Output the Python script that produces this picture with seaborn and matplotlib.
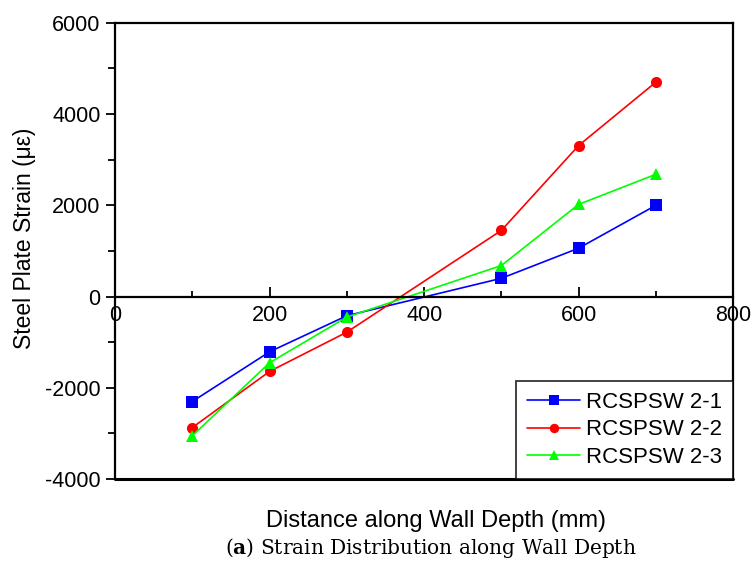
import pandas as pd
import matplotlib.pyplot as plt
import seaborn as sns
from matplotlib.ticker import MultipleLocator

# data
distance = [100, 200, 300, 500, 600, 700]
sw21 = [-2300, -1210, -420, 400, 1060, 2000]
sw22 = [-2870, -1640, -780, 1450, 3310, 4700]
sw23 = [-3050, -1450, -450, 680, 2020, 2680]
labels = ['RCSPSW 2-1', 'RCSPSW 2-2', 'RCSPSW 2-3']

df = pd.concat([
    pd.DataFrame({'Distance': distance, 'Strain': vals, 'Specimen': name})
    for name, vals in zip(labels, [sw21, sw22, sw23])
])

sns.set_style('white', {'text.color': 'black', 'xtick.color': 'black',
                        'ytick.color': 'black', 'axes.labelcolor': 'black'})
plt.rcParams['font.family'] = ['Liberation Sans', 'DejaVu Sans']
plt.rcParams['axes.unicode_minus'] = False
plt.rcParams['mathtext.fontset'] = 'custom'
plt.rcParams['mathtext.rm'] = 'DejaVu Serif'
plt.rcParams['mathtext.bf'] = 'DejaVu Serif:bold'

fig = plt.figure(figsize=(7.52, 5.69), dpi=100)
ax = fig.add_axes([0.153, 0.158, 0.822, 0.802])

sns.lineplot(data=df, x='Distance', y='Strain', hue='Specimen', style='Specimen',
             palette={'RCSPSW 2-1': '#0000ff', 'RCSPSW 2-2': '#ff0000', 'RCSPSW 2-3': '#00ff00'},
             markers={'RCSPSW 2-1': 's', 'RCSPSW 2-2': 'o', 'RCSPSW 2-3': '^'},
             dashes=False, markersize=8, markeredgewidth=0, linewidth=1.2, ax=ax)

ax.set_xlim(0, 800)
ax.set_ylim(-4000, 6000)
ax.xaxis.set_major_locator(MultipleLocator(200))
ax.xaxis.set_minor_locator(MultipleLocator(100))
ax.yaxis.set_major_locator(MultipleLocator(2000))
ax.yaxis.set_minor_locator(MultipleLocator(1000))

for s in ax.spines.values():
    s.set_color('black')
    s.set_linewidth(1.6)
ax.spines['bottom'].set_position(('data', 0))
ax.axhline(-4000, color='black', lw=2.2, clip_on=False)

ax.tick_params(axis='x', which='major', direction='in', length=7, width=1.3,
               labelsize=15.5, pad=6, bottom=True, color='black', labelcolor='black')
ax.tick_params(axis='x', which='minor', direction='in', length=4, width=1.3, bottom=True)
ax.tick_params(axis='y', which='major', direction='out', length=6.5, width=1.3,
               labelsize=15.5, pad=4, left=True, color='black', labelcolor='black')
ax.tick_params(axis='y', which='minor', direction='out', length=5, width=1.3, left=True)

ax.set_xlabel('')
ax.set_ylabel('')
fig.text(25 / 752, 1 - 238 / 569, 'Steel Plate Strain (με)', fontsize=16.5,
         rotation=90, ha='center', va='center', color='black')
fig.text(436 / 752, 1 - 521 / 569, 'Distance along Wall Depth (mm)', fontsize=17,
         ha='center', va='center', color='black')
fig.text(431 / 752, 1 - 548 / 569, r'($\mathbf{a}$) Strain Distribution along Wall Depth',
         fontsize=14.5, ha='center', va='center', family='DejaVu Serif', color='black')

leg = ax.legend(loc='lower right', bbox_to_anchor=(1.0, 0.0), fontsize=16, frameon=True,
                fancybox=False, handlelength=2.4, handletextpad=0.25, borderpad=0.5,
                labelspacing=0.3, borderaxespad=0.0, markerscale=0.85)
leg.get_frame().set_edgecolor('black')
leg.get_frame().set_linewidth(1.3)
for t in leg.get_texts():
    t.set_color('black')

fig.savefig('out.png', dpi=100)
